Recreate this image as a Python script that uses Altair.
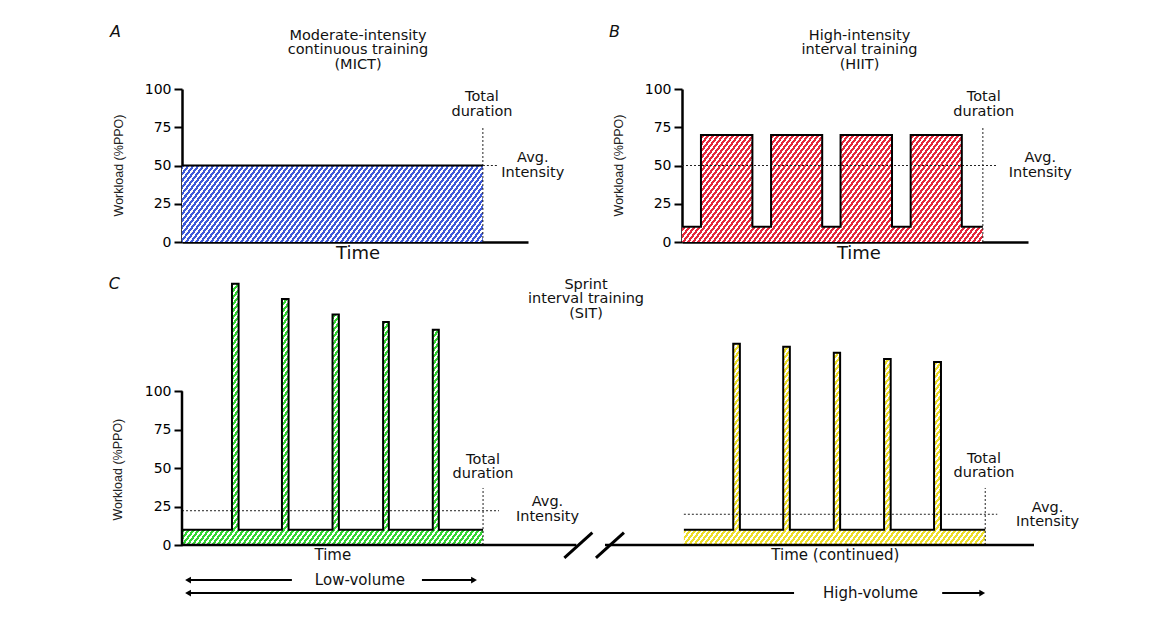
import altair as alt
import pandas as pd

FONT = "DejaVu Sans"
INK = "#111111"

# ---------------- data (time in arbitrary units, workload in %PPO) ----------------
MICT_TIME = [0, 100]
MICT_LOAD = [50, 50]
HIIT_TIME = [0, 6.3, 23.4, 29.6, 46.6, 52.7, 69.8, 76.0, 93.0, 100]
HIIT_LOAD = [10, 70, 10, 70, 10, 70, 10, 70, 10, 10]
SIT_LOW_TIME = [0, 16.6, 18.8, 33.2, 35.4, 50.0, 52.1, 66.8, 68.7, 83.3, 85.3, 100]
SIT_LOW_LOAD = [10, 170, 10, 160, 10, 150, 10, 145, 10, 140, 10, 10]
SIT_HIGH_TIME = [166.7, 183.1, 185.3, 199.7, 201.9, 216.5, 218.6, 233.2, 235.4, 249.8, 252.1, 266.8]
SIT_HIGH_LOAD = [10, 131, 10, 129, 10, 125, 10, 121, 10, 119, 10, 10]
AVG_MICT = 50
AVG_HIIT = 50
AVG_SIT_LOW = 22.3
AVG_SIT_HIGH = 20
Y_TICKS = [0, 25, 50, 75, 100]

# ---------------- panel geometry ----------------
TOP_W, TOP_H = 346, 153
TOP_XDOM, TOP_YDOM = [0, 115], [0, 100]
C_W, C_H = 852, 269
C_XDOM, C_YDOM = [0, 283], [0, 175]
PXT = TOP_W / (TOP_XDOM[1] - TOP_XDOM[0])
PYT = TOP_H / (TOP_YDOM[1] - TOP_YDOM[0])
PXC = C_W / (C_XDOM[1] - C_XDOM[0])
PYC = C_H / (C_YDOM[1] - C_YDOM[0])


def hatch(dark, light, w, h, period=5.0, dark_frac=0.55, k=0.75):
    """Diagonal '/' stripes via a linear gradient over the mark's bounding box."""
    D = w + k * h
    den = w * w + (k * h) ** 2
    a = D * w / den
    b = D * k * h / den
    stops = []
    i = 0
    while True:
        t0 = i * period / D
        if t0 >= 1:
            break
        t1 = min(1.0, (i + dark_frac) * period / D)
        t2 = min(1.0, (i + 1) * period / D)
        stops += [alt.GradientStop(color=dark, offset=t0), alt.GradientStop(color=dark, offset=t1),
                  alt.GradientStop(color=light, offset=t1), alt.GradientStop(color=light, offset=t2)]
        i += 1
    return alt.LinearGradient(gradient="linear", stops=stops, x1=0, y1=0, x2=a, y2=b)


def encoders(xdom, ydom, xaxis, yaxis):
    sx = alt.Scale(domain=xdom, nice=False, zero=False)
    sy = alt.Scale(domain=ydom, nice=False, zero=False)

    def X(f="x"):
        return alt.X(f + ":Q", scale=sx, axis=xaxis)

    def Y(f="y"):
        return alt.Y(f + ":Q", scale=sy, axis=yaxis)

    return X, Y


Y_AXIS = alt.Axis(values=Y_TICKS, title=None, grid=False, domainColor="black", domainWidth=2.5,
                  tickColor="black", tickWidth=2, tickSize=8, labelFont=FONT, labelFontSize=14,
                  labelColor="black", labelPadding=3)
Y_AXIS_C = alt.Axis(values=Y_TICKS, title=None, grid=False, domain=False,
                    tickColor="black", tickWidth=2, tickSize=8, labelFont=FONT, labelFontSize=14,
                    labelColor="black", labelPadding=3)
X_AXIS = alt.Axis(labels=False, ticks=False, title=None, grid=False, domainColor="black", domainWidth=2.5)


def profile_layers(X, Y, times, loads, fill):
    df = pd.DataFrame({"x": times, "y": loads})
    area = alt.Chart(df).mark_area(interpolate="step-after", color=fill, opacity=1).encode(x=X(), y=Y())
    line = alt.Chart(df).mark_line(interpolate="step-after", color="black", strokeWidth=2).encode(x=X(), y=Y())
    return area, line


def rules(X, Y, segs, **kw):
    df = pd.DataFrame(segs, columns=["x", "y", "x2", "y2"])
    return alt.Chart(df).mark_rule(**kw).encode(x=X(), y=Y(), x2="x2:Q", y2="y2:Q")


def texts(X, Y, rows, **kw):
    df = pd.DataFrame(rows, columns=["text", "x", "y"])
    style = dict(font=FONT, color=INK, align="center", baseline="middle")
    style.update(kw)
    return alt.Chart(df).mark_text(**style).encode(x=X(), y=Y(), text="text:N")


DOT = dict(color="#222222", strokeWidth=1, strokeDash=[2, 2])

# ---------------- Panel A ----------------
XA, YA = encoders(TOP_XDOM, TOP_YDOM, X_AXIS, Y_AXIS)
fillA = hatch("#3f5ad8", "#ffffff", 100 * PXT, max(MICT_LOAD) * PYT)
areaA, lineA = profile_layers(XA, YA, MICT_TIME, MICT_LOAD, fillA)
panelA = alt.layer(
    areaA,
    rules(XA, YA, [(100, AVG_MICT, 104.7, AVG_MICT), (100, 0, 100, 75.8)], **DOT),
    lineA,
    texts(XA, YA, [("Moderate-intensity", 58.5, 134.6), ("continuous training", 58.5, 125.5),
                   ("(MICT)", 58.5, 115.7), ("Total", 99.7, 94.8), ("duration", 99.7, 85.0),
                   ("Avg.", 116.6, 54.9), ("Intensity", 116.6, 45.1)], fontSize=14.5),
    texts(XA, YA, [("Time", 58.5, -7.8)], fontSize=18),
    texts(XA, YA, [("A", -23.9, 137)], fontSize=16, fontStyle="italic", align="left"),
    texts(XA, YA, [("Workload (%PPO)", -21.1, 50)], font="Liberation Sans", fontSize=12.5, angle=270,
          color="#222222"),
).properties(width=TOP_W, height=TOP_H)

# ---------------- Panel B ----------------
XB, YB = encoders(TOP_XDOM, TOP_YDOM, X_AXIS, Y_AXIS)
fillB = hatch("#e4283c", "#ffffff", 100 * PXT, max(HIIT_LOAD) * PYT)
areaB, lineB = profile_layers(XB, YB, HIIT_TIME, HIIT_LOAD, fillB)
panelB = alt.layer(
    areaB,
    rules(XB, YB, [(0, AVG_HIIT, 104.7, AVG_HIIT), (100, 0, 100, 75.8)], **DOT),
    lineB,
    texts(XB, YB, [("High-intensity", 59.0, 134.6), ("interval training", 59.0, 125.5),
                   ("(HIIT)", 59.0, 115.7), ("Total", 100.3, 94.8), ("duration", 100.3, 85.0),
                   ("Avg.", 119.1, 54.9), ("Intensity", 119.1, 45.1)], fontSize=14.5),
    texts(XB, YB, [("Time", 58.8, -7.8)], fontSize=18),
    texts(XB, YB, [("B", -24.3, 137)], fontSize=16, fontStyle="italic", align="left"),
    texts(XB, YB, [("Workload (%PPO)", -21.1, 50)], font="Liberation Sans", fontSize=12.5, angle=270,
          color="#222222"),
).properties(width=TOP_W, height=TOP_H)

# ---------------- Panel C ----------------
XC, YC = encoders(C_XDOM, C_YDOM, None, Y_AXIS_C)
fillC1 = hatch("#33d633", "#ffffff", (SIT_LOW_TIME[-1] - SIT_LOW_TIME[0]) * PXC, max(SIT_LOW_LOAD) * PYC)
fillC2 = hatch("#eede2a", "#ffffff", (SIT_HIGH_TIME[-1] - SIT_HIGH_TIME[0]) * PXC, max(SIT_HIGH_LOAD) * PYC)
areaC1, lineC1 = profile_layers(XC, YC, SIT_LOW_TIME, SIT_LOW_LOAD, fillC1)
areaC2, lineC2 = profile_layers(XC, YC, SIT_HIGH_TIME, SIT_HIGH_LOAD, fillC2)

arrow_lines = [(2, -22.8, 36.5, -22.8), (79.7, -22.8, 97, -22.8),
               (2, -31.3, 203.3, -31.3), (252.5, -31.3, 265.8, -31.3)]
heads_left = pd.DataFrame({"x": [2, 2], "y": [-22.8, -31.3]})
heads_right = pd.DataFrame({"x": [97, 265.8], "y": [-22.8, -31.3]})

panelC = alt.layer(
    areaC1, areaC2,
    rules(XC, YC, [(0, AVG_SIT_LOW, 105.3, AVG_SIT_LOW), (100, 0, 100, 37.1),
                   (166.7, AVG_SIT_HIGH, 270.8, AVG_SIT_HIGH), (266.8, 0, 266.8, 37.1)], **DOT),
    lineC1, lineC2,
    # axis lines (with a break on the time axis)
    rules(XC, YC, [(0, 0, 0, 100), (0, 0, 131, 0), (140.5, 0, 283, 0)], color="black", strokeWidth=2.5),
    rules(XC, YC, [(127, -8.3, 136.3, 8.0), (137.5, -8.3, 146.8, 8.0)], color="black", strokeWidth=3),
    # volume arrows
    rules(XC, YC, arrow_lines, color="black", strokeWidth=2),
    alt.Chart(heads_left).mark_point(shape="triangle-left", filled=True, size=45, color="black",
                                     opacity=1).encode(x=XC(), y=YC()),
    alt.Chart(heads_right).mark_point(shape="triangle-right", filled=True, size=45, color="black",
                                      opacity=1).encode(x=XC(), y=YC()),
    texts(XC, YC, [("Sprint", 134.2, 169.2), ("interval training", 134.2, 160.1), ("(SIT)", 134.2, 150.3),
                   ("Total", 100, 55.3), ("duration", 100, 46.2),
                   ("Avg.", 121.4, 28.0), ("Intensity", 121.4, 18.2),
                   ("Total", 266.4, 56.0), ("duration", 266.4, 46.8),
                   ("Avg.", 287.5, 24.1), ("Intensity", 287.5, 15.0)], fontSize=14.5),
    texts(XC, YC, [("Time", 50.1, -6.5), ("Time (continued)", 217, -6.5),
                   ("Low-volume", 59.1, -22.8), ("High-volume", 228.7, -31.3)], fontSize=15),
    texts(XC, YC, [("C", -24.3, 170.1)], fontSize=16, fontStyle="italic", align="left"),
    texts(XC, YC, [("Workload (%PPO)", -21.4, 49)], font="Liberation Sans", fontSize=12.5, angle=270,
          color="#222222"),
).properties(width=C_W, height=C_H)

top = alt.hconcat(panelA, panelB, spacing=154, bounds="flush")
# with flush bounds the nested row counts as zero height, so the spacing spans row 1's height + gap
chart = alt.vconcat(top, panelC, spacing=TOP_H + 34, bounds="flush").properties(
    padding={"left": 100, "top": 16, "right": 10, "bottom": 10}
).configure_view(stroke=None)

chart.save("out.html", embed_options={"renderer": "svg", "actions": False})
